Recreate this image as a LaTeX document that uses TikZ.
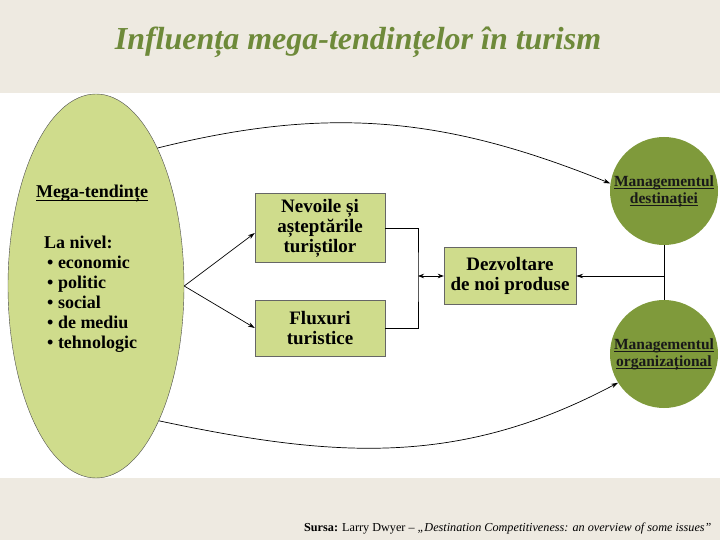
\documentclass[tikz,border=0pt]{standalone}
\usepackage{fontspec}
\setmainfont{Liberation Serif}
\usepackage{amsmath}
\usepackage{xcolor}
\usetikzlibrary{positioning,arrows.meta,calc,shapes.geometric}
\definecolor{paper}{HTML}{EEEAE1}
\definecolor{lightolive}{HTML}{CFDC8C}
\definecolor{darkolive}{HTML}{7F9A3B}
\definecolor{titlegreen}{HTML}{6E8A3A}
\newcommand{\undl}[1]{\underline{\smash[b]{#1}}}
\tikzset{
  box/.style     ={draw=gray!80!black, rectangle, align=center, fill=lightolive, minimum width=130pt, font=\fontsize{19}{20}\selectfont\bfseries},
  mgmt/.style    ={draw=none, circle, fill=darkolive, minimum size=108pt, inner sep=0pt, align=center, font=\fontsize{15.5}{17}\selectfont\bfseries, text=black!90},
  trend/.style   ={draw=black!70, ellipse, fill=lightolive, minimum width=176pt, minimum height=384pt, line width=0.4pt},
  arr/.style     ={-{Stealth[length=7pt,width=4.5pt]}, line width=0.7pt},
  dbl/.style     ={{Stealth[length=6pt,width=4.5pt]}-{Stealth[length=6pt,width=4.5pt]}, line width=0.7pt},
  ln/.style      ={line width=0.7pt},
}

\begin{document}
\begin{tikzpicture}[x=1pt, y=-1pt]
  \useasboundingbox (0,0) rectangle (720,540);
  \fill[paper] (0,0) rectangle (720,540);
  \fill[white] (0,93) rectangle (720,478);

  \node[font=\fontsize{32}{36}\selectfont\bfseries\itshape, text=titlegreen] (title) at (358,42) {Influența mega-tendințelor în turism};

  \node[trend] (mega) at (96,286) {};
  \node[font=\fontsize{18}{20}\selectfont\bfseries] (megahd) at (92,193) {\undl{Mega-tendințe}};
  \node[font=\fontsize{18}{20}\selectfont\bfseries, align=left, anchor=north west, inner sep=0pt] (levels) at (44,236)
    {La nivel:\\
     \,\textbullet\ economic\\
     \,\textbullet\ politic\\
     \,\textbullet\ social\\
     \,\textbullet\ de mediu\\
     \,\textbullet\ tehnologic};

  \node[box, minimum height=69pt] (nevoi) at (320,228) {Nevoile și\\așteptările\\turiștilor};
  \node[box, minimum height=56pt] (flux)  at (320,328) {Fluxuri\\turistice};
  \node[box, minimum width=132pt, minimum height=57pt] (dezv) at (510,276) {Dezvoltare\\de noi produse};

  \node[mgmt] (dest) at (664,191) {\undl{Managementul}\\\undl{destinației}};
  \node[mgmt] (org)  at (664,354) {\undl{Managementul}\\\undl{organizațional}};

  \coordinate (jn)  at (418,276);
  \coordinate (mid) at (dest.south |- dezv.east);

  \draw[arr] (mega.east) -- ([yshift=-5pt]nevoi.west);
  \draw[arr] (mega.east) -- (flux.west);
  \draw[ln] (nevoi.east) -| (jn) |- (flux.east);
  \draw[dbl] (jn) -- (dezv.west);
  \draw[ln] (dest.south) -- (org.north);
  \draw[arr] (mid) -- (dezv.east);

  \draw[arr] (mega.66) to[out=14, in=158, looseness=1.0] (dest.172);
  \draw[arr] (mega.-65) to[out=-12, in=-152, looseness=1.0] (org.212);

  \node[anchor=base east, font=\fontsize{12.2}{14}\selectfont] (source) at (715,531)
    {\textbf{Sursa:} Larry Dwyer – \textit{„Destination Competitiveness: an overview of some issues”}};
\end{tikzpicture}
\end{document}
